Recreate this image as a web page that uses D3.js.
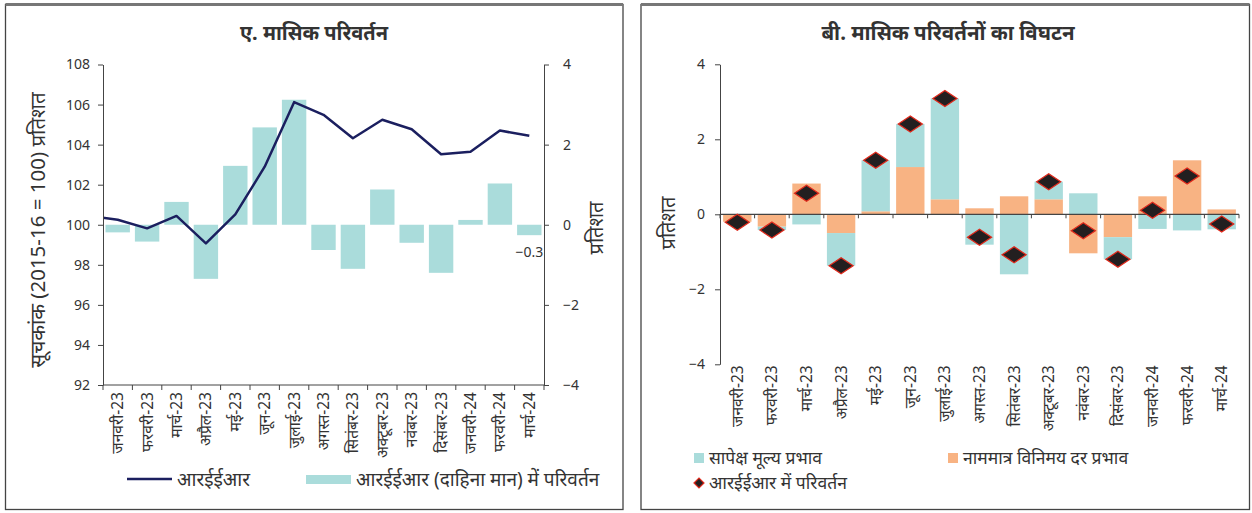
<!DOCTYPE html>
<html><head><meta charset="utf-8">
<script src="https://cdn.jsdelivr.net/npm/d3@7"></script>
<style>
body{margin:0;background:#fff}
svg{display:block}
text{font-family:"Noto Sans","Noto Sans Devanagari",sans-serif;fill:#333}
</style>
</head><body>
<svg id="c" width="1252" height="513"></svg>
<script>
// ---------- DATA ----------
const months = ["जनवरी-23","फरवरी-23","मार्च-23","अप्रैल-23","मई-23","जून-23","जुलाई-23","अगस्त-23","सितंबर-23","अक्टूबर-23","नवंबर-23","दिसंबर-23","जनवरी-24","फरवरी-24","मार्च-24"];
const reerPrev = 100.45; // Dec-22 (runs off the left edge)
const reerIndex = [100.25, 99.82, 100.44, 99.07, 100.52, 102.9, 106.12, 105.49, 104.32, 105.24, 104.77, 103.52, 103.64, 104.7, 104.44];
const reerChangeA = [-0.19, -0.42, 0.57, -1.35, 1.47, 2.43, 3.12, -0.63, -1.1, 0.88, -0.45, -1.2, 0.12, 1.03, -0.26];
const leftTicksA = [92, 94, 96, 98, 100, 102, 104, 106, 108];
const rightTicksA = [-4, -2, 0, 2, 4];

const relPriceEffect = [0, -0.09, -0.27, -0.87, 1.36, 1.15, 2.69, -0.81, -1.6, 0.47, 0.56, -0.59, -0.39, -0.43, -0.4];
const nominalFxEffect = [-0.2, -0.33, 0.82, -0.5, 0.08, 1.26, 0.4, 0.16, 0.48, 0.4, -1.04, -0.61, 0.48, 1.44, 0.13];
const reerChangeB = [-0.21, -0.42, 0.56, -1.37, 1.44, 2.41, 3.09, -0.61, -1.08, 0.87, -0.44, -1.2, 0.11, 1.02, -0.26];
const ticksB = [-4, -2, 0, 2, 4];

const titleA = "ए. मासिक परिवर्तन";
const titleB = "बी. मासिक परिवर्तनों का विघटन";

// ---------- STYLE ----------
const C_LINE = "#1b1f5f", C_TEAL = "#aadcdb", C_ORANGE = "#f8b383", C_AXIS = "#444";
const svg = d3.select("#c");

// panel frames
function frame(x0, x1){
  svg.append("rect").attr("x",x0).attr("y",4.5).attr("width",x1-x0).attr("height",505)
    .attr("fill","none").attr("stroke","#444").attr("stroke-width",1.3);
  svg.append("line").attr("x1",x0).attr("x2",x1).attr("y1",4.5).attr("y2",4.5)
    .attr("stroke","#777").attr("stroke-width",3);
}
frame(5.5, 623);
frame(641, 1249.5);

function styleAxis(g){
  g.selectAll("path,line").attr("stroke",C_AXIS).attr("stroke-width",1);
  g.selectAll("text").attr("fill","#333").style("font-size","14px");
}

// ================= PANEL A =================
const A = {l:103, r:544, t:64.5, b:385};
const xA = d3.scaleBand().domain(months).range([A.l, A.r]).paddingInner(0.17).paddingOuter(0.085);
const yL = d3.scaleLinear().domain([92,108]).range([A.b, A.t]);
const yR = d3.scaleLinear().domain([-4,4]).range([A.b, A.t]);

svg.append("text").attr("x",314).attr("y",40).attr("text-anchor","middle")
  .style("font-size","20px").style("font-weight","bold").attr("fill","#222").text(titleA);

// bars
svg.append("g").selectAll("rect").data(months).join("rect")
  .attr("x",d=>xA(d)).attr("width",xA.bandwidth())
  .attr("y",(d,i)=>yR(Math.max(0,reerChangeA[i])))
  .attr("height",(d,i)=>Math.abs(yR(reerChangeA[i])-yR(0)))
  .attr("fill",C_TEAL);

// last value label
svg.append("text").attr("x",xA(months[14])+xA.bandwidth()/2).attr("y",yR(reerChangeA[14])+22)
  .attr("text-anchor","middle").style("font-size","14px").text(d3.format(".1f")(reerChangeA[14]));

// line
svg.append("clipPath").attr("id","clipA").append("rect").attr("x",A.l).attr("y",A.t-10).attr("width",A.r-A.l).attr("height",A.b-A.t+20);
const lineData = [{x:xA(months[0])+xA.bandwidth()/2 - xA.step(), v:reerPrev}]
  .concat(months.map((m,i)=>({x:xA(m)+xA.bandwidth()/2, v:reerIndex[i]})));
svg.append("path").datum(lineData).attr("clip-path","url(#clipA)")
  .attr("d", d3.line().x(d=>d.x).y(d=>yL(d.v)))
  .attr("fill","none").attr("stroke",C_LINE).attr("stroke-width",2.5).attr("stroke-linejoin","round");

// axes
svg.append("g").attr("transform",`translate(${A.l},0)`)
  .call(d3.axisLeft(yL).tickValues(leftTicksA).tickSize(5).tickSizeOuter(0).tickPadding(8)).call(styleAxis);
svg.append("g").attr("transform",`translate(${A.r},0)`)
  .call(d3.axisRight(yR).tickValues(rightTicksA).tickSize(5).tickSizeOuter(0).tickPadding(14).tickFormat(d3.format("d"))).call(styleAxis);
// x axis
const gxA = svg.append("g");
gxA.append("line").attr("x1",A.l).attr("x2",A.r).attr("y1",A.b).attr("y2",A.b).attr("stroke",C_AXIS);
gxA.selectAll("line.t").data(d3.range(months.length+1)).join("line").attr("class","t")
  .attr("x1",i=>A.l+i*xA.step()).attr("x2",i=>A.l+i*xA.step()).attr("y1",A.b).attr("y2",A.b+5).attr("stroke",C_AXIS);
gxA.selectAll("text").data(months).join("text")
  .attr("transform",d=>`translate(${xA(d)+xA.bandwidth()/2},${A.b+7}) rotate(-90)`)
  .attr("text-anchor","end").attr("dy","0.35em").style("font-size","15.5px").text(d=>d);

// axis titles
svg.append("text").attr("transform","translate(38,230) rotate(-90)").attr("text-anchor","middle").attr("dy","0.35em")
  .style("font-size","20.5px").text("सूचकांक (2015-16 = 100) प्रतिशत");
svg.append("text").attr("transform","translate(596,228) rotate(-90)").attr("text-anchor","middle").attr("dy","0.35em")
  .style("font-size","20px").text("प्रतिशत");

// legend A
const lgA = svg.append("g");
lgA.append("line").attr("x1",127).attr("x2",172).attr("y1",479).attr("y2",479).attr("stroke",C_LINE).attr("stroke-width",2.5);
lgA.append("text").attr("x",177).attr("y",479).attr("dy","0.35em").style("font-size","19px").text("आरईईआर");
lgA.append("rect").attr("x",306).attr("y",475).attr("width",45).attr("height",9).attr("fill",C_TEAL);
lgA.append("text").attr("x",356).attr("y",479).attr("dy","0.35em").style("font-size","19px").text("आरईईआर (दाहिना मान) में परिवर्तन");

// ================= PANEL B =================
const B = {l:720, r:1239, t:64.3, b:364.3};
const xB = d3.scaleBand().domain(months).range([B.l, B.r]).paddingInner(0.18).paddingOuter(0.09);
const yB = d3.scaleLinear().domain([-4,4]).range([B.b, B.t]);

svg.append("text").attr("x",948).attr("y",40).attr("text-anchor","middle")
  .style("font-size","20.5px").style("font-weight","bold").attr("fill","#222").text(titleB);

const rows = months.map((m,i)=>({m, nom:nominalFxEffect[i], rel:relPriceEffect[i]}));
const stack = d3.stack().keys(["nom","rel"]).offset(d3.stackOffsetDiverging)(rows);
const colors = {nom:C_ORANGE, rel:C_TEAL};
svg.append("g").selectAll("g").data(stack).join("g").attr("fill",s=>colors[s.key])
  .selectAll("rect").data(s=>s).join("rect")
  .attr("x",d=>xB(d.data.m)).attr("width",xB.bandwidth())
  .attr("y",d=>yB(Math.max(d[0],d[1])))
  .attr("height",d=>Math.abs(yB(d[0])-yB(d[1])));

// axes
svg.append("g").attr("transform",`translate(${B.l},0)`)
  .call(d3.axisLeft(yB).tickValues(ticksB).tickSize(5).tickSizeOuter(0).tickPadding(10).tickFormat(d3.format("d"))).call(styleAxis);
const gxB = svg.append("g");
gxB.append("line").attr("x1",B.l).attr("x2",B.r).attr("y1",yB(0)).attr("y2",yB(0)).attr("stroke",C_AXIS).attr("stroke-width",1.3);
gxB.selectAll("line.t").data(d3.range(months.length+1)).join("line").attr("class","t")
  .attr("x1",i=>B.l+i*xB.step()).attr("x2",i=>B.l+i*xB.step()).attr("y1",yB(0)).attr("y2",yB(0)+4).attr("stroke",C_AXIS);
gxB.selectAll("text").data(months).join("text")
  .attr("transform",d=>`translate(${xB(d)+xB.bandwidth()/2},${B.b+1}) rotate(-90)`)
  .attr("text-anchor","end").attr("dy","0.35em").style("font-size","15.5px").text(d=>d);

// diamonds
const diamond = "M-12,0L0,-8L12,0L0,8Z";
svg.append("g").selectAll("path").data(months).join("path")
  .attr("transform",(d,i)=>`translate(${xB(d)+xB.bandwidth()/2},${yB(reerChangeB[i])})`)
  .attr("d",diamond).attr("fill","#231f20").attr("stroke","#e02a1c").attr("stroke-width",1.3);

svg.append("text").attr("transform","translate(668,223) rotate(-90)").attr("text-anchor","middle").attr("dy","0.35em")
  .style("font-size","20px").text("प्रतिशत");

// legend B
const lgB = svg.append("g");
lgB.append("rect").attr("x",694).attr("y",453).attr("width",10).attr("height",10).attr("fill",C_TEAL);
lgB.append("text").attr("x",709).attr("y",458).attr("dy","0.35em").style("font-size","17.5px").text("सापेक्ष मूल्य प्रभाव");
lgB.append("rect").attr("x",948).attr("y",453).attr("width",10).attr("height",10).attr("fill",C_ORANGE);
lgB.append("text").attr("x",963).attr("y",458).attr("dy","0.35em").style("font-size","17.5px").text("नाममात्र विनिमय दर प्रभाव");
lgB.append("path").attr("transform","translate(699,483)").attr("d","M-5,0L0,-5L5,0L0,5Z")
  .attr("fill","#231f20").attr("stroke","#e02a1c").attr("stroke-width",1.2);
lgB.append("text").attr("x",709).attr("y",483).attr("dy","0.35em").style("font-size","17.5px").text("आरईईआर में परिवर्तन");
</script>
</body></html>
